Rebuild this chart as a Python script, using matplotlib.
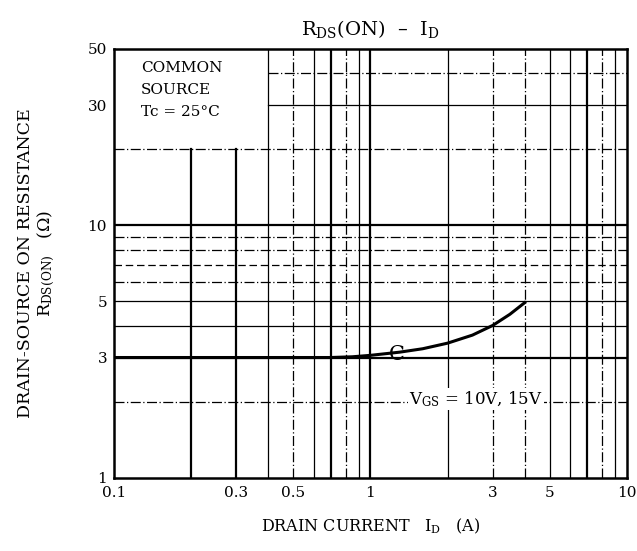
import math
import matplotlib
matplotlib.use("Agg")
import matplotlib.pyplot as plt

plt.rcParams['font.family'] = ['DejaVu Serif']
plt.rcParams['mathtext.fontset'] = 'dejavuserif'

# curve
drain_current = [0.1, 0.3, 0.7, 0.85, 1.0, 1.3, 1.6, 2.0, 2.5, 3.0, 3.5, 4.0]
rds_on = [3.0, 3.0, 3.0, 3.02, 3.06, 3.15, 3.25, 3.42, 3.68, 4.02, 4.45, 4.95]

x_ticks = [0.1, 0.3, 0.5, 1, 3, 5, 10]
x_tick_labels = ["0.1", "0.3", "0.5", "1", "3", "5", "10"]
y_ticks = [1, 3, 5, 10, 30, 50]
y_tick_labels = ["1", "3", "5", "10", "30", "50"]

# chart-paper grid, value -> style
v_grid = {0.2: 'thick', 0.3: 'thick', 0.4: 'solid', 0.5: 'dashdot', 0.6: 'solid',
          0.7: 'thick', 0.8: 'dashdot', 0.9: 'solid', 1: 'thick',
          2: 'solid', 3: 'dashdot', 4: 'dashdot', 5: 'solid', 6: 'solid',
          7: 'thick', 8: 'dashdot', 9: 'solid'}
h_grid = {2: 'dashdot', 3: 'thick', 4: 'solid', 5: 'solid', 6: 'dashdot', 7: 'dashed',
          8: 'dashdot', 9: 'dashdot', 10: 'thick', 20: 'dashdot', 30: 'solid', 40: 'dashdot'}

styles = {'thick': dict(ls='-', lw=1.6), 'solid': dict(ls='-', lw=0.9),
          'dashdot': dict(ls=(0, (8, 2, 1, 2)), lw=0.9), 'dashed': dict(ls=(0, (6, 3)), lw=0.9)}

fig = plt.figure(figsize=(6.37, 5.51), dpi=100)
ax = fig.add_axes([0.179, 0.1325, 0.805, 0.7786])
ax.set_xscale('log')
ax.set_yscale('log')
ax.set_xlim(0.1, 10)
ax.set_ylim(1, 50)

# white legend box in the upper-left corner, grid stops at its edge
box_x, box_y = 0.4, 20
box_top = math.log10(box_y) / math.log10(50)
box_right = (math.log10(box_x) + 1) / 2
for v, s in v_grid.items():
    top = box_top if v < box_x else 1.0
    ax.axvline(v, ymax=top, color='black', zorder=1, **styles[s])
for h, s in h_grid.items():
    left = box_right if h > box_y else 0.0
    ax.axhline(h, xmin=left, color='black', zorder=1, **styles[s])

ax.plot(drain_current, rds_on, color='black', lw=2.2, zorder=3)
ax.text(1.27, 3.08, "C", fontsize=15, ha='center', va='center', zorder=4)

ax.text(1.42, 2.05, r"V$_{\rm GS}$ = 10V, 15V", fontsize=12, va='center',
        bbox=dict(facecolor='white', edgecolor='none', pad=1), zorder=4)
ax.text(0.127, 45, "COMMON\nSOURCE\nTc = 25°C", fontsize=11, va='top', linespacing=1.75)

ax.set_xticks(x_ticks)
ax.set_xticklabels(x_tick_labels)
ax.set_yticks(y_ticks)
ax.set_yticklabels(y_tick_labels)
ax.minorticks_off()
ax.tick_params(length=0, labelsize=11)
ax.tick_params(axis='x', pad=6)
ax.tick_params(axis='y', pad=5)
for sp in ax.spines.values():
    sp.set_linewidth(1.8)

ax.set_title(r"R$_{\rm DS}$(ON)  –  I$_{\rm D}$", fontsize=14, pad=10)
ax.set_xlabel(r"DRAIN CURRENT   I$_{\rm D}$   (A)", fontsize=11.5, labelpad=12)
ax.set_ylabel("DRAIN-SOURCE ON RESISTANCE\n" + r"R$_{\rm DS(ON)}$   ($\Omega$)",
              fontsize=12.5, labelpad=22, linespacing=1.1)

fig.savefig("out.png", dpi=100)
